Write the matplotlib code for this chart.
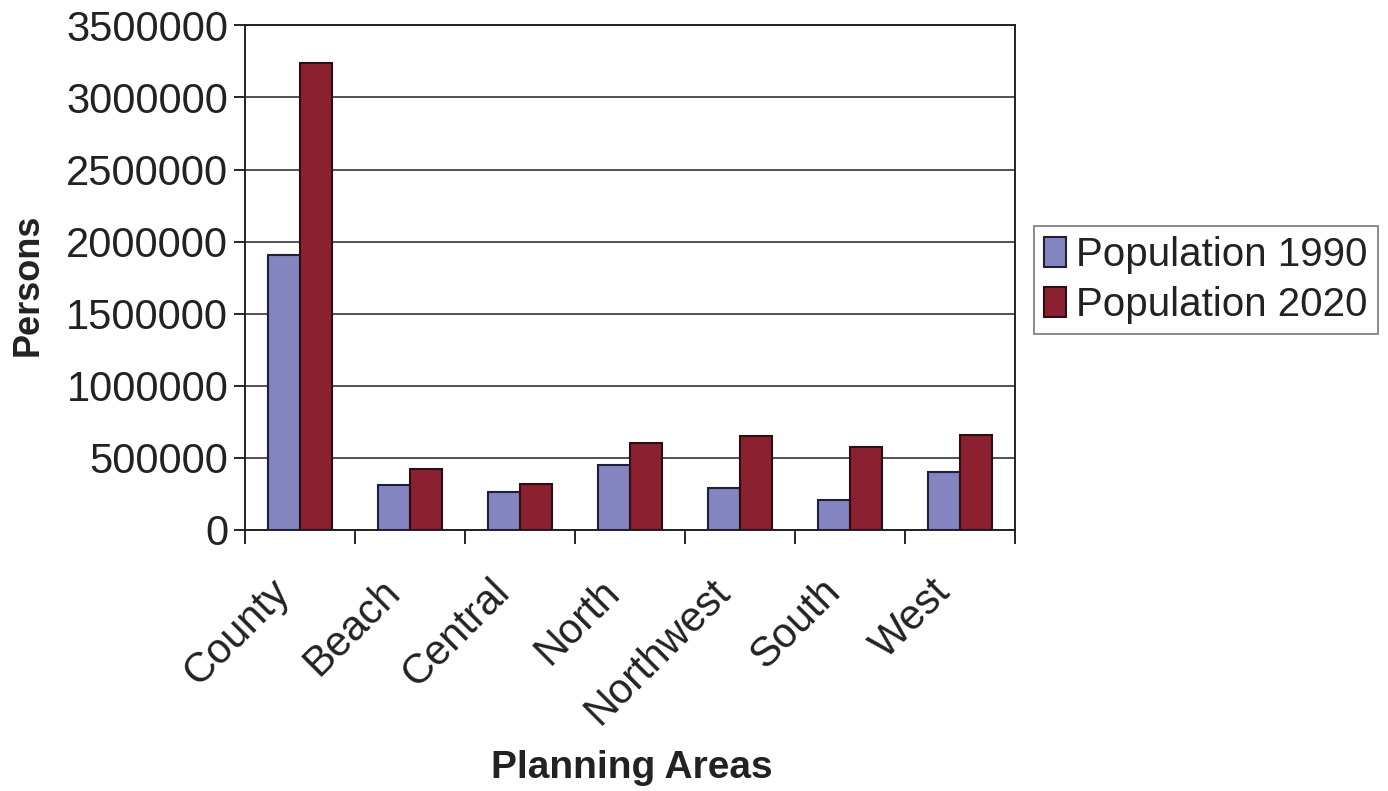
import matplotlib.pyplot as plt
import matplotlib.transforms as mtransforms
import numpy as np

plt.rcParams["font.family"] = ["Liberation Sans", "DejaVu Sans"]

areas = ["County", "Beach", "Central", "North", "Northwest", "South", "West"]
pop_1990 = [1907000, 312000, 266000, 451000, 290000, 208000, 405000]
pop_2020 = [3236000, 423000, 319000, 606000, 655000, 578000, 662000]
series_labels = ["Population 1990", "Population 2020"]

fig = plt.figure(figsize=(13.88, 7.91), dpi=100)
ax = fig.add_axes([0.1765, 0.33, 0.5548, 0.638])

x = np.arange(len(areas))
w = 0.295
ax.bar(x - w / 2, pop_1990, w, color="#8484c0", edgecolor="#1f1f3a",
       linewidth=1.5, label=series_labels[0], zorder=3)
ax.bar(x + w / 2, pop_2020, w, color="#8a2030", edgecolor="#2a1015",
       linewidth=1.5, label=series_labels[1], zorder=3)

ax.set_xlim(-0.5, len(areas) - 0.5)
ax.set_ylim(0, 3500000)
ax.set_yticks(np.arange(0, 3500001, 500000))
ax.set_yticklabels([f"{int(v)}" for v in np.arange(0, 3500001, 500000)])
ax.grid(axis="y", color="#333333", linewidth=1.2, zorder=0)

# ticks between categories, labels at centers
ax.set_xticks(np.arange(-0.5, len(areas)), minor=False)
ax.set_xticklabels([])
ax.set_xticks(x, minor=True)
ax.set_xticklabels(areas, minor=True, rotation=45, ha="right",
                   rotation_mode="anchor", fontsize=30, color="#222222")
ax.tick_params(axis="x", which="minor", length=0, pad=12)
ax.tick_params(axis="x", which="major", length=10, width=1.2, direction="out")
ax.tick_params(axis="y", labelsize=30, labelcolor="#222222", length=8,
               width=1.2, direction="out", pad=4)

shift = mtransforms.ScaledTranslation(-0.30, -0.25, fig.dpi_scale_trans)
for lab in ax.get_xticklabels(minor=True):
    lab.set_transform(lab.get_transform() + shift)

for s in ax.spines.values():
    s.set_color("#222222")
    s.set_linewidth(1.4)

fig.text(632 / 1388, 1 - 768 / 791, "Planning Areas", fontsize=28,
         fontweight="bold", color="#222222", ha="center", va="center")
fig.text(28 / 1388, 1 - 285 / 791, "Persons", fontsize=26, rotation=90,
         fontweight="bold", color="#222222", ha="center", va="center")

leg = fig.legend(loc="center left", bbox_to_anchor=(0.745, 0.646),
                 fontsize=29, frameon=True, fancybox=False,
                 handlelength=0.55, handleheight=0.8, handletextpad=0.25,
                 borderpad=0.25, labelspacing=0.3, borderaxespad=0)
leg.get_frame().set_edgecolor("#555555")
leg.get_frame().set_linewidth(1.2)
for t in leg.get_texts():
    t.set_color("#222222")

fig.savefig("out.png", dpi=100, facecolor="white")
